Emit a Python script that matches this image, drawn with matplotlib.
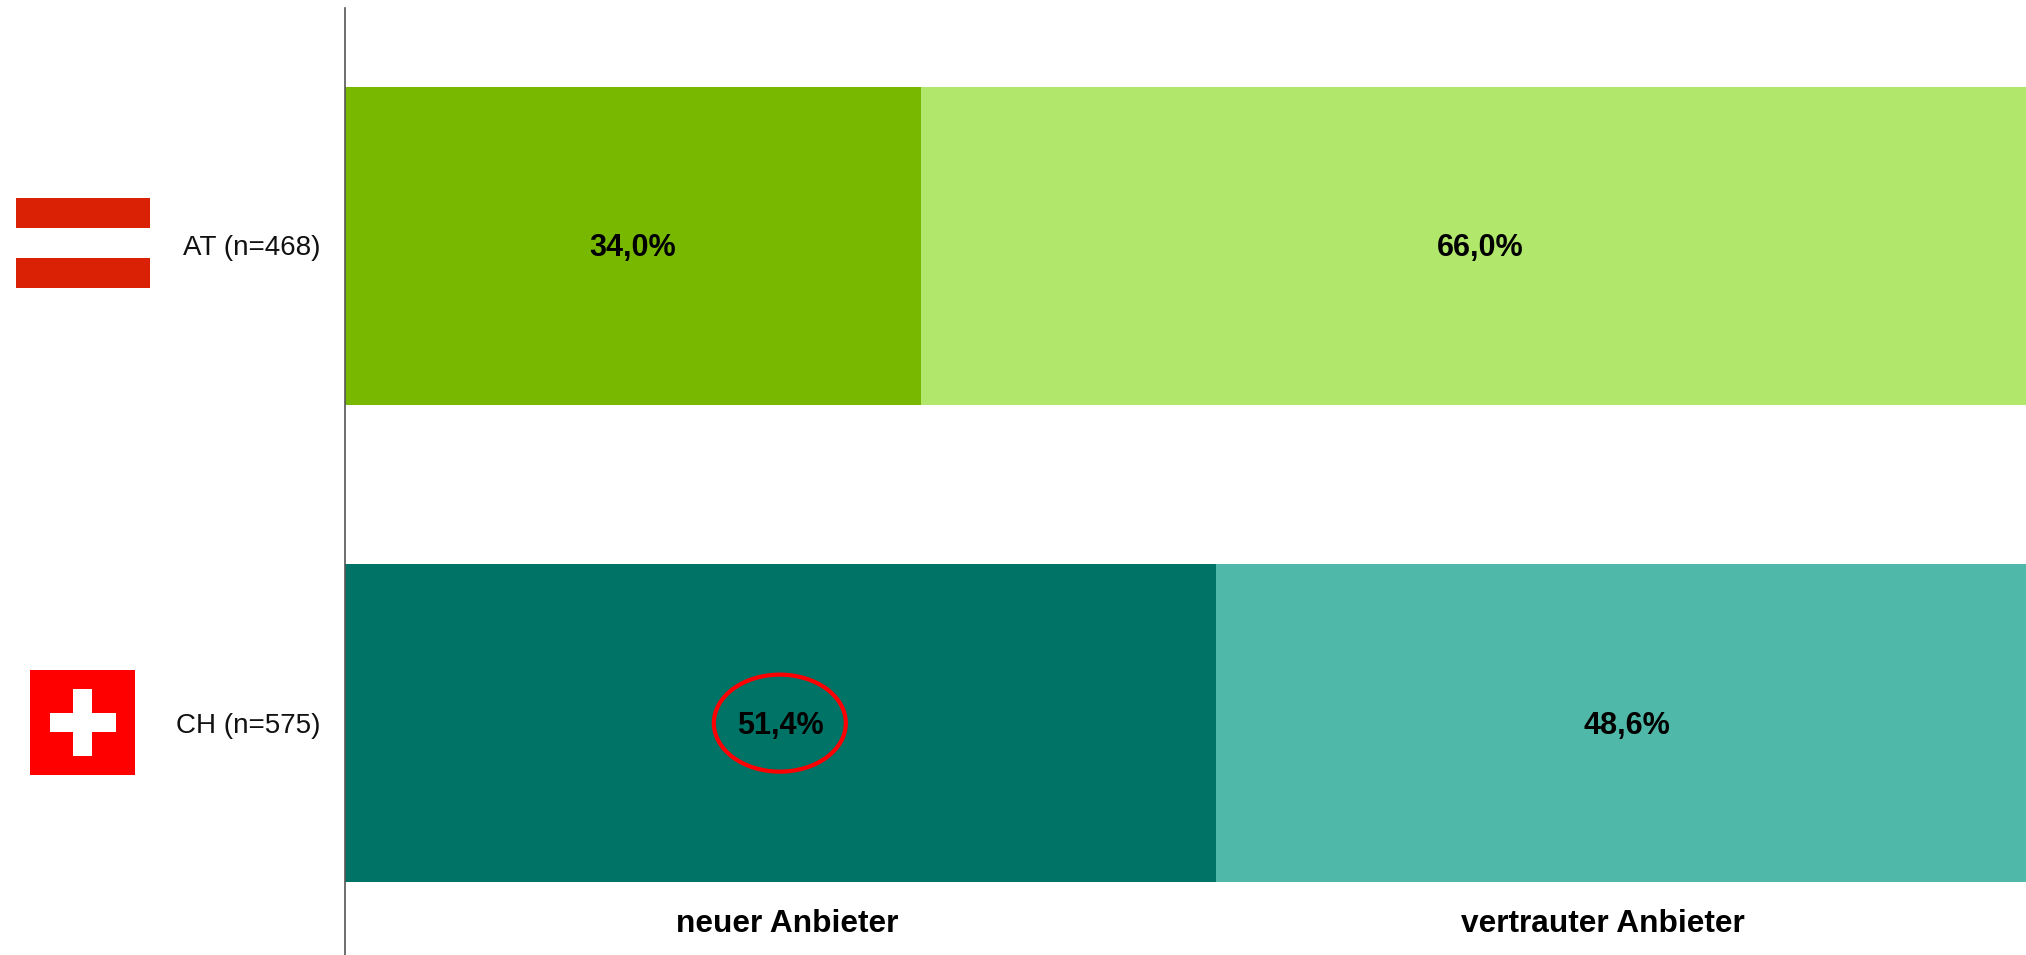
#!/usr/bin/env python3
# -*- coding: utf-8 -*-
import matplotlib
matplotlib.use("Agg")
import matplotlib.pyplot as plt
from matplotlib.patches import Ellipse, Rectangle

countries = ['CH (n=575)', 'AT (n=468)']
neuer = [51.4, 34.0]
vertraut = [48.6, 66.0]
series_names = ['neuer Anbieter', 'vertrauter Anbieter']
colors_neu = ['#007367', '#78B800']
colors_ver = ['#50B8A8', '#B1E76A']

W, H = 2026, 955
PX_PER_PCT = 16.94
PX_PER_ROW = 477


def px_rect(fig, x0, y0, x1, y1, color):
    # flag parts, given in picture pixels with y from the top
    fig.add_artist(Rectangle((x0 / W, 1 - y1 / H), (x1 - x0) / W, (y1 - y0) / H,
                             transform=fig.transFigure, color=color, lw=0))


def main():
    plt.rcParams['font.family'] = ['Liberation Sans', 'DejaVu Sans']

    fig = plt.figure(figsize=(W / 100, H / 100), dpi=100)
    ax = fig.add_axes([345 / W, 0, (W - 345) / W, (H - 8) / H])

    ypos = range(len(countries))
    ax.barh(ypos, neuer, height=0.667, color=colors_neu, lw=0)
    ax.barh(ypos, vertraut, left=neuer, height=0.667, color=colors_ver, lw=0)

    for y, a, b in zip(ypos, neuer, vertraut):
        ax.text(a / 2, y - 0.005, f'{a:.1f}%'.replace('.', ','), ha='center', va='center',
                fontsize=22, fontweight='bold', color='black')
        ax.text(a + b / 2, y - 0.005, f'{b:.1f}%'.replace('.', ','), ha='center', va='center',
                fontsize=22, fontweight='bold', color='black')
        ax.text(-25 / PX_PER_PCT, y - 0.005, countries[y], ha='right', va='center',
                fontsize=20, color='#111111', clip_on=False)

    # red ring round the Swiss value
    ax.add_patch(Ellipse((neuer[0] / 2 - 0.03, 0), 132 / PX_PER_PCT, 97 / PX_PER_ROW, fill=False,
                         edgecolor='#FF0000', lw=3))

    # the header labels do not sit exactly on the bar centres
    ax.text(26.1, -0.4215, series_names[0], ha='center', va='center',
            fontsize=22.8, fontweight='bold', color='black')
    ax.text(74.25, -0.4215, series_names[1], ha='center', va='center',
            fontsize=22.8, fontweight='bold', color='black')

    ax.set_xlim(0, (W - 345) / PX_PER_PCT)
    ax.set_ylim(-0.486, 1.499)
    ax.set_xticks([])
    ax.set_yticks([])
    for side in ['top', 'right', 'bottom']:
        ax.spines[side].set_visible(False)
    ax.spines['left'].set_color('#555555')
    ax.spines['left'].set_linewidth(1.2)

    # Austria
    px_rect(fig, 16, 198, 150, 228, '#DA2106')
    px_rect(fig, 16, 258, 150, 288, '#DA2106')
    # Switzerland
    px_rect(fig, 30, 670, 135, 775, '#FF0000')
    px_rect(fig, 49.5, 712.5, 115.5, 732, 'white')
    px_rect(fig, 72.5, 689, 92, 755.5, 'white')

    fig.savefig('out.png', dpi=100)


if __name__ == "__main__":
    main()
